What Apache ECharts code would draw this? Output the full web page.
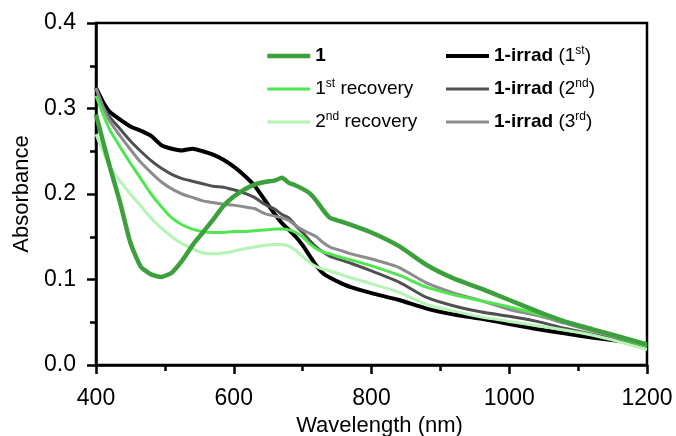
<!DOCTYPE html>
<html>
<head>
<meta charset="utf-8">
<script src="https://cdn.jsdelivr.net/npm/echarts@6/dist/echarts.min.js"></script>
<style>html,body{margin:0;padding:0;background:#fff}#c{width:676px;height:436px}</style>
</head>
<body>
<div id="c"></div>
<script>
const wavelengths = [400,410,420,435,450,465,480,495,510,525,540,555,570,585,600,615,630,645,660,670,680,690,700,710,720,730,740,755,770,800,840,880,920,960,1000,1040,1080,1120,1160,1200];
const s1 = [0.293,0.262,0.232,0.190,0.143,0.115,0.106,0.103,0.108,0.122,0.140,0.155,0.170,0.186,0.197,0.205,0.211,0.214,0.216,0.219,0.213,0.210,0.206,0.201,0.192,0.181,0.172,0.168,0.164,0.155,0.139,0.117,0.101,0.089,0.076,0.063,0.051,0.042,0.033,0.024];
const rec1 = [0.315,0.294,0.275,0.255,0.236,0.218,0.200,0.185,0.172,0.164,0.159,0.156,0.155,0.155,0.156,0.156,0.157,0.158,0.159,0.159,0.158,0.155,0.150,0.142,0.136,0.132,0.130,0.126,0.123,0.116,0.105,0.091,0.082,0.075,0.068,0.060,0.051,0.042,0.032,0.022];
const rec2 = [0.270,0.250,0.232,0.215,0.200,0.186,0.172,0.160,0.150,0.142,0.136,0.131,0.130,0.131,0.133,0.136,0.138,0.140,0.141,0.141,0.139,0.134,0.127,0.120,0.115,0.112,0.110,0.106,0.102,0.095,0.085,0.071,0.063,0.056,0.051,0.046,0.041,0.035,0.027,0.018];
const irr1 = [0.324,0.308,0.296,0.287,0.279,0.274,0.268,0.257,0.253,0.251,0.253,0.250,0.246,0.240,0.232,0.222,0.210,0.193,0.176,0.166,0.158,0.150,0.140,0.128,0.116,0.107,0.102,0.096,0.091,0.084,0.076,0.066,0.059,0.054,0.048,0.042,0.037,0.032,0.028,0.023];
const irr2 = [0.324,0.303,0.290,0.276,0.262,0.250,0.239,0.230,0.223,0.218,0.215,0.212,0.209,0.208,0.205,0.201,0.196,0.188,0.182,0.176,0.172,0.163,0.155,0.146,0.138,0.132,0.127,0.123,0.119,0.110,0.097,0.079,0.069,0.062,0.057,0.051,0.043,0.036,0.029,0.022];
const irr3 = [0.324,0.302,0.285,0.268,0.252,0.237,0.225,0.214,0.206,0.200,0.196,0.192,0.190,0.188,0.187,0.185,0.183,0.177,0.174,0.172,0.169,0.163,0.158,0.154,0.150,0.143,0.138,0.134,0.130,0.124,0.114,0.096,0.084,0.075,0.065,0.058,0.049,0.040,0.031,0.022];
const seriesNames = ['1','1st recovery','2nd recovery','1-irrad (1st)','1-irrad (2nd)','1-irrad (3rd)'];
const seriesColors = ['#3ca03c','#50e650','#b4f4b4','#000000','#505050','#8c8c8c'];
const seriesWidths = [4.5,3,3,4,3,3];
const xTicks = [400,600,800,1000,1200];
const yTicks = [0.0,0.1,0.2,0.3,0.4];

const pair = v => wavelengths.map((w,i)=>[w,v[i]]);
const fmtMap = {
  '1':'{b|1}',
  '1st recovery':'1{sup|st} recovery',
  '2nd recovery':'2{sup|nd} recovery',
  '1-irrad (1st)':'{b|1-irrad} (1{sup|st})',
  '1-irrad (2nd)':'{b|1-irrad} (2{sup|nd})',
  '1-irrad (3rd)':'{b|1-irrad} (3{sup|rd})'
};
const FONT = '"Liberation Sans", Arial, sans-serif';
const legendText = {
  fontFamily: FONT, fontSize: 19, color:'#000', lineHeight: 22,
  rich: {
    b: {fontFamily: FONT, fontSize: 19, fontWeight:'bold', color:'#000', lineHeight:22},
    sup: {fontFamily: FONT, fontSize: 12, color:'#000', lineHeight:12, verticalAlign:'top'}
  }
};
const mkLine = (i, data) => ({
  name: seriesNames[i], type:'line', data: pair(data), showSymbol:false, symbol:'none', smooth:0.2,
  lineStyle:{color:seriesColors[i], width:seriesWidths[i]}, itemStyle:{color:seriesColors[i]}, animation:false
});
const legendItem = i => ({name: seriesNames[i],
  lineStyle:{color:seriesColors[i], width:seriesWidths[i]},
  itemStyle:{color:'rgba(0,0,0,0)', borderColor:'rgba(0,0,0,0)', borderWidth:0}});
const legendBase = {orient:'vertical', top:40, itemWidth:43, itemHeight:14, itemGap:11,
  formatter:n=>fmtMap[n], textStyle:legendText,
  itemStyle:{color:'rgba(0,0,0,0)', borderColor:'rgba(0,0,0,0)', borderWidth:0}};
const chart = echarts.init(document.getElementById('c'), null, {renderer:'canvas'});
chart.setOption({
  backgroundColor:'#fff',
  animation:false,
  grid:{left:96, top:23, right:29, bottom:71, outerBoundsMode:'none', containLabel:false,
    show:true, borderColor:'#000', borderWidth:2.5, backgroundColor:'transparent'},
  legend:[
    Object.assign({left:260, data:[0,1,2].map(legendItem)}, legendBase),
    Object.assign({left:439, data:[3,4,5].map(legendItem)}, legendBase)
  ],
  xAxis:{type:'value', min:xTicks[0], max:xTicks[xTicks.length-1], interval:200,
    name:'Wavelength (nm)', nameLocation:'middle', nameGap:48,
    nameTextStyle:{fontFamily:FONT, fontSize:22, color:'#000', padding:[0,0,0,16]},
    axisLine:{lineStyle:{color:'#000', width:2.5}},
    axisTick:{inside:false, length:9, lineStyle:{color:'#000', width:2.5}},
    minorTick:{show:true, splitNumber:2, length:6, lineStyle:{color:'#000', width:2.5}},
    splitLine:{show:false},
    axisLabel:{fontFamily:FONT, fontSize:23, color:'#000', margin:22, formatter:v=>String(v)}
  },
  yAxis:{type:'value', min:yTicks[0], max:yTicks[yTicks.length-1], interval:0.1,
    name:'Absorbance', nameLocation:'middle', nameGap:62,
    nameTextStyle:{fontFamily:FONT, fontSize:22, color:'#000'},
    axisLine:{lineStyle:{color:'#000', width:2.5}},
    axisTick:{inside:false, length:9, lineStyle:{color:'#000', width:2.5}},
    minorTick:{show:true, splitNumber:2, length:6, lineStyle:{color:'#000', width:2.5}},
    splitLine:{show:false},
    axisLabel:{fontFamily:FONT, fontSize:23, color:'#000', margin:20, formatter:v=>v.toFixed(1)}
  },
  series:[
    mkLine(3, irr1),
    mkLine(4, irr2),
    mkLine(5, irr3),
    mkLine(2, rec2),
    mkLine(1, rec1),
    mkLine(0, s1)
  ]
});
</script>
</body>
</html>
